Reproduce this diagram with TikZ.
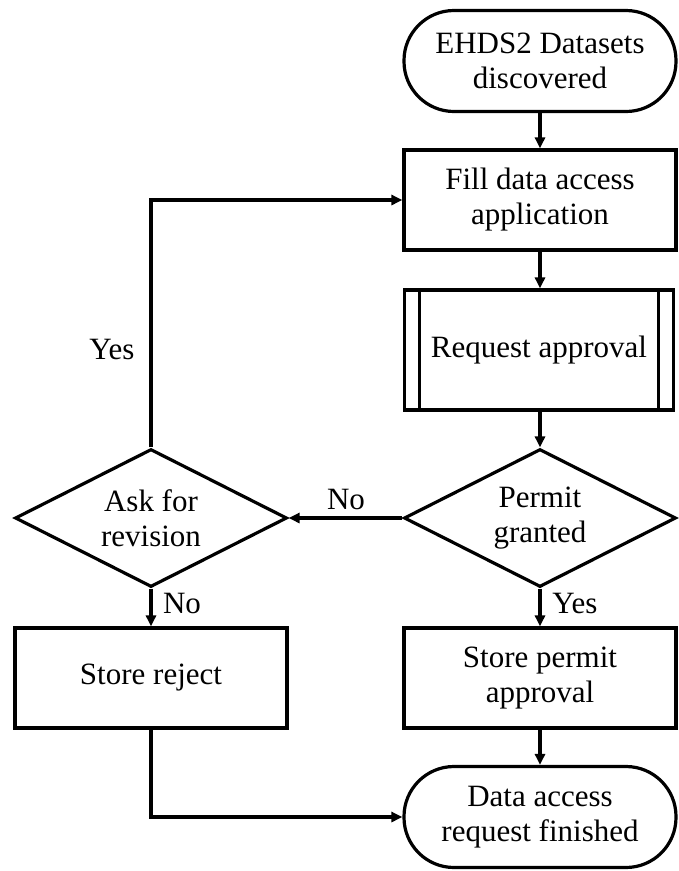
\documentclass[tikz,border=0pt]{standalone}
\usepackage{fontspec}
\setmainfont{Liberation Serif}
\usetikzlibrary{shapes.geometric,arrows.meta}
\begin{document}
\begin{tikzpicture}[x=1pt,y=-1pt,
  every node/.style={font=\fontsize{31}{35}\selectfont, align=center, text=black},
  boxbase/.style={draw, line width=3.2pt, inner sep=0pt},
  terminal/.style={boxbase, rectangle, rounded corners=50pt, minimum width=272pt, minimum height=101pt},
  procbox/.style={boxbase, rectangle, minimum width=272pt, minimum height=100pt},
  subproc/.style={boxbase, rectangle, minimum width=269pt, minimum height=120pt,
    path picture={
      \draw[line width=3.2pt] ([xshift=15pt]path picture bounding box.north west) -- ([xshift=15pt]path picture bounding box.south west);
      \draw[line width=3.2pt] ([xshift=-15pt]path picture bounding box.north east) -- ([xshift=-15pt]path picture bounding box.south east);
    }},
  decision/.style={boxbase, diamond, aspect=2, minimum width=272pt, minimum height=138pt},
  flow/.style={line width=3.2pt, -{Triangle[length=11pt,width=10pt]}},
  lbl/.style={inner sep=0pt}
]
\useasboundingbox (0,0) rectangle (679,871);

\node[terminal] (start) at (540,61) {EHDS2 Datasets\\discovered};
\node[procbox] (fill) at (540,200) {Fill data access\\application};
\node[subproc] (req) at (539,350) {Request approval};
\node[decision] (permit) at (540,518) {Permit\\granted};
\node[decision] (ask) at (151,518) {Ask for\\revision};
\node[procbox] (reject) at (151,678) {Store reject};
\node[procbox] (store) at (540,678) {Store permit\\approval};
\node[terminal] (finish) at (540,817) {Data access\\request finished};

\draw[flow] (start) -- (fill);
\draw[flow] (fill) -- (fill |- req.north);
\draw[flow] (req.south -| permit.north) -- (permit);
\draw[flow] (permit.west) -- (ask.east);
\draw[flow] (ask.north) |- (fill.west);
\draw[flow] (ask.south) -- (reject.north);
\draw[flow] (permit.south) -- (store.north);
\draw[flow] (store.south) -- (finish.north);
\draw[flow] (reject.south) |- (finish.west);

\node[lbl] (lno1) at (346,499) {No};
\node[lbl] (lyes1) at (112,349) {Yes};
\node[lbl] (lno2) at (182,603) {No};
\node[lbl] (lyes2) at (575,603) {Yes};
\end{tikzpicture}
\end{document}
